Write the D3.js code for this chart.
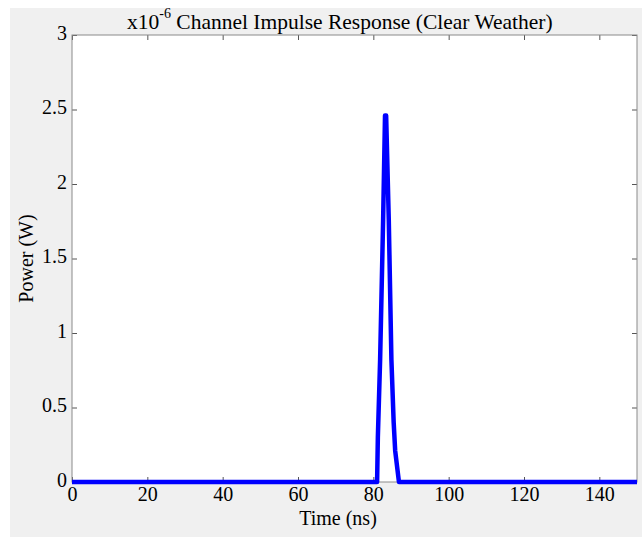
<!DOCTYPE html>
<html>
<head>
<meta charset="utf-8">
<script src="https://cdn.jsdelivr.net/npm/d3@7"></script>
<style>
  body { margin: 0; background: #fff; }
  svg text { font-family: "Liberation Serif", "Times New Roman", serif; fill: #000; }
</style>
</head>
<body>
<div id="chart"></div>
<script>
// impulse response, power in units of 1e-6 W
const timeNs = [0, 81, 81.2, 81.8, 82.6, 83.1, 83.4, 84.1, 84.8, 85.4, 85.8, 86.8, 150]
const powerW = [0, 0, 0.3, 0.82, 1.76, 2.46, 2.46, 1.76, 0.82, 0.4, 0.21, 0, 0]
const xTicks = [0, 20, 40, 60, 80, 100, 120, 140]
const yTicks = [0, 0.5, 1, 1.5, 2, 2.5, 3]

const width = 642
const height = 537
const margin = {left: 72, right: 5, top: 35, bottom: 55}
const innerW = width - margin.left - margin.right
const innerH = height - margin.top - margin.bottom

const svg = d3.select('#chart').append('svg')
  .attr('width', width)
  .attr('height', height)

// figure background (grey, with thin white strip on top/left)
svg.append('rect')
  .attr('x', 10).attr('y', 8)
  .attr('width', width - 10).attr('height', height - 8)
  .attr('fill', '#f0f0f0')

const g = svg.append('g')
  .attr('transform', 'translate(' + margin.left + ',' + margin.top + ')')

const x = d3.scaleLinear().domain([0, 150]).range([0, innerW])
const y = d3.scaleLinear().domain([0, 3]).range([innerH, 0])

g.append('rect')
  .attr('width', innerW).attr('height', innerH)
  .attr('fill', '#fff')

const styleAxis = sel => {
  sel.select('.domain').remove()
  sel.selectAll('.tick line').attr('stroke', '#555')
  sel.selectAll('.tick text').style('font-size', '20px')
}

g.append('g')
  .attr('transform', 'translate(0,' + innerH + ')')
  .call(d3.axisBottom(x).tickValues(xTicks).tickSize(-5).tickPadding(4))
  .call(styleAxis)
  .selectAll('.tick text').attr('dy', '0.75em')

g.append('g')
  .call(d3.axisTop(x).tickValues(xTicks).tickSize(-5).tickFormat(''))
  .call(styleAxis)

g.append('g')
  .call(d3.axisLeft(y).tickValues(yTicks).tickSize(-5).tickPadding(5).tickFormat(d3.format('')))
  .call(styleAxis)
  .selectAll('.tick text').attr('dy', '0.2em')

g.append('g')
  .attr('transform', 'translate(' + innerW + ',0)')
  .call(d3.axisRight(y).tickValues(yTicks).tickSize(-5).tickFormat(''))
  .call(styleAxis)

// axes box
g.append('rect')
  .attr('width', innerW).attr('height', innerH)
  .attr('fill', 'none')
  .attr('stroke', '#8a8a8a')
  .attr('stroke-width', 1)

const line = d3.line()
  .x((d, i) => x(timeNs[i]))
  .y(d => y(d))

g.append('path')
  .datum(powerW)
  .attr('d', line)
  .attr('fill', 'none')
  .attr('stroke', '#0000ff')
  .attr('stroke-width', 4.5)
  .attr('stroke-linejoin', 'round')

// title with exponent
const title = svg.append('text')
  .attr('x', 127).attr('y', 29)
  .style('font-size', '21.5px')
title.append('tspan').text('x10')
title.append('tspan').attr('dy', -11).style('font-size', '14px').text('-6')
title.append('tspan').attr('dy', 11).text(' Channel Impulse Response (Clear Weather)')

svg.append('text')
  .attr('x', 338).attr('y', 525)
  .attr('text-anchor', 'middle')
  .style('font-size', '20px')
  .text('Time (ns)')

svg.append('text')
  .attr('transform', 'translate(33,' + (margin.top + innerH / 2) + ') rotate(-90)')
  .attr('text-anchor', 'middle')
  .style('font-size', '20px')
  .text('Power (W)')
</script>
</body>
</html>
